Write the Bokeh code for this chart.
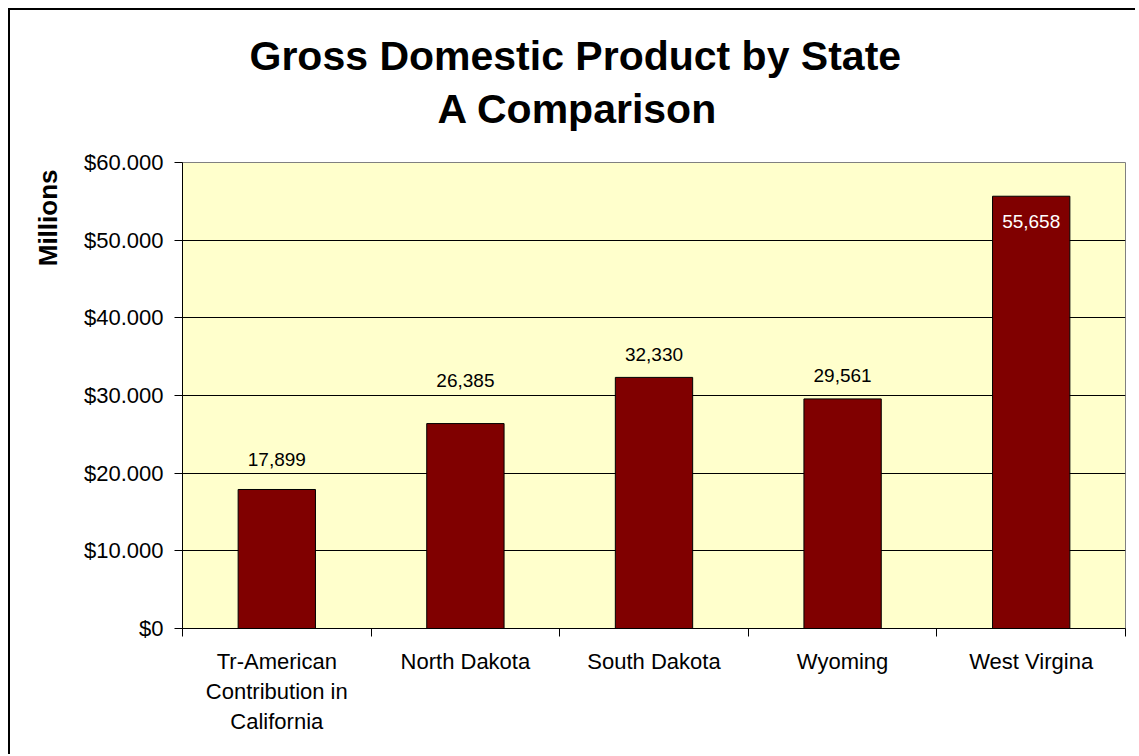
from bokeh.plotting import figure
from bokeh.models import Range1d, FixedTicker, Title, ColumnDataSource
from bokeh.core.properties import value
from bokeh.embed import file_html
from bokeh.resources import INLINE

categories = ["Tr-American\nContribution in\nCalifornia", "North Dakota", "South Dakota", "Wyoming", "West Virgina"]
gdp = [17899, 26385, 32330, 29561, 55658]
y_ticks = [0, 10000, 20000, 30000, 40000, 50000, 60000]
y_tick_labels = ["$0", "$10.000", "$20.000", "$30.000", "$40.000", "$50.000", "$60.000"]
title_lines = ["Gross Domestic Product by State", "A Comparison"]
y_axis_title = "Millions"

# label placement (pixels from bar top to text baseline; positive = above) and colours
label_dy = [30, 43, 23, 23, -25]
label_color = ["black", "black", "black", "black", "white"]

FONT = "Liberation Sans"

p = figure(width=1127, height=746, output_backend="svg", toolbar_location=None,
           x_range=Range1d(0, len(categories)), y_range=Range1d(0, 60000),
           min_border_left=172, min_border_top=152, min_border_right=12, min_border_bottom=128,
           background_fill_color="#FFFFCC", border_fill_color="white",
           styles={"margin-left": "8px", "margin-top": "8px",
                   "border-left": "2px solid black", "border-top": "2px solid black"})

p.outline_line_color = "#808080"
p.outline_line_width = 1

xs = [i + 0.5 for i in range(len(categories))]
src = ColumnDataSource(dict(x=xs, top=gdp,
                            label=[f"{v:,}" for v in gdp],
                            dy=[-d for d in label_dy],
                            color=label_color))

p.vbar(x="x", top="top", width=0.41, source=src, fill_color="#800000",
       line_color="black", line_width=1)

p.text(x="x", y="top", text="label", source=src, y_offset="dy",
       text_align="center", text_baseline="alphabetic",
       text_font=value(FONT), text_font_size="19px", text_color="color")

# grid
p.xgrid.visible = False
p.ygrid.ticker = FixedTicker(ticks=y_ticks)
p.ygrid.grid_line_color = "black"
p.ygrid.grid_line_width = 1

# y axis
ya = p.yaxis[0]
ya.ticker = FixedTicker(ticks=y_ticks)
ya.major_label_overrides = {t: l for t, l in zip(y_ticks, y_tick_labels)}
ya.major_label_text_font = FONT
ya.major_label_text_font_size = "22px"
ya.major_label_text_color = "black"
ya.major_tick_out = 8
ya.major_tick_in = 0
ya.minor_tick_out = 0
ya.minor_tick_in = 0
ya.major_label_standoff = 11
ya.axis_line_color = "black"
ya.major_tick_line_color = "black"

# x axis
xa = p.xaxis[0]
xa.ticker = FixedTicker(ticks=xs, minor_ticks=list(range(len(categories) + 1)))
xa.major_label_overrides = {x: c for x, c in zip(xs, categories)}
xa.major_label_text_font = FONT
xa.major_label_text_font_size = "22px"
xa.major_label_text_color = "black"
xa.major_tick_out = 0
xa.major_tick_in = 0
xa.minor_tick_out = 8
xa.minor_tick_in = 0
xa.minor_tick_line_color = "black"
xa.major_label_standoff = 12
xa.axis_line_color = "black"

# chart title: two lines; the second is closest to the plot area
p.add_layout(Title(text=title_lines[1], align="left", offset=255, standoff=62,
                   text_font=FONT, text_font_size="41px", text_font_style="bold",
                   text_color="black"), "above")
p.add_layout(Title(text=title_lines[0], align="left", offset=67, standoff=-52,
                   text_font=FONT, text_font_size="41px", text_font_style="bold",
                   text_color="black"), "above")

p.add_layout(Title(text=y_axis_title, align="right", offset=7, standoff=36,
                   text_font=FONT, text_font_size="26px", text_font_style="bold",
                   text_color="black"), "left")

open("out.html", "w").write(file_html(p, INLINE))
